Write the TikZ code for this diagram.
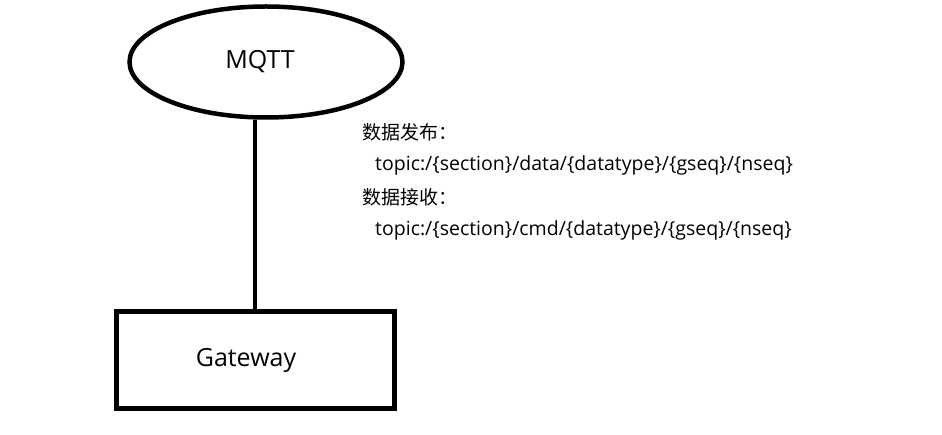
\documentclass[tikz,border=0pt]{standalone}
\usepackage{fontspec}
\setmainfont{Open Sans}
\newfontfamily\cjk{Noto Sans CJK SC}
\usetikzlibrary{shapes.geometric}

\begin{document}
\begin{tikzpicture}[x=1pt,y=-1pt]
    \tikzstyle{every node}=[inner sep=0pt];
    \tikzstyle{label}=[anchor=west, font=\fontsize{19.5}{22}\selectfont];
    \tikzstyle{cjklabel}=[anchor=west, font=\cjk\fontsize{19}{22}\selectfont];
    \useasboundingbox (0,0) rectangle (942,435);
    \node (M) [draw, shape=ellipse, line width=4.5pt, minimum width=273pt, minimum height=111pt,
      font=\fontsize{25}{28}\selectfont] at (266,62) {\hspace*{-12pt}MQTT};
    \node (G) [draw, shape=rectangle, line width=5pt, minimum width=278pt, minimum height=96pt,
      font=\fontsize{25}{28}\selectfont] at (255,360) {\hspace*{-18pt}Gateway};
    \draw[line width=4.5pt] (M.south -| G.north) -- (G.north);
    \node (P) [cjklabel] at (362,132) {数据发布：};
    \node (PT) [label] at (375,165) {topic:/\{section\}/data/\{datatype\}/\{gseq\}/\{nseq\}};
    \node (R) [cjklabel] at (362,197) {数据接收：};
    \node (RT) [label] at (375,230) {topic:/\{section\}/cmd/\{datatype\}/\{gseq\}/\{nseq\}};
  \end{tikzpicture}
\end{document}
